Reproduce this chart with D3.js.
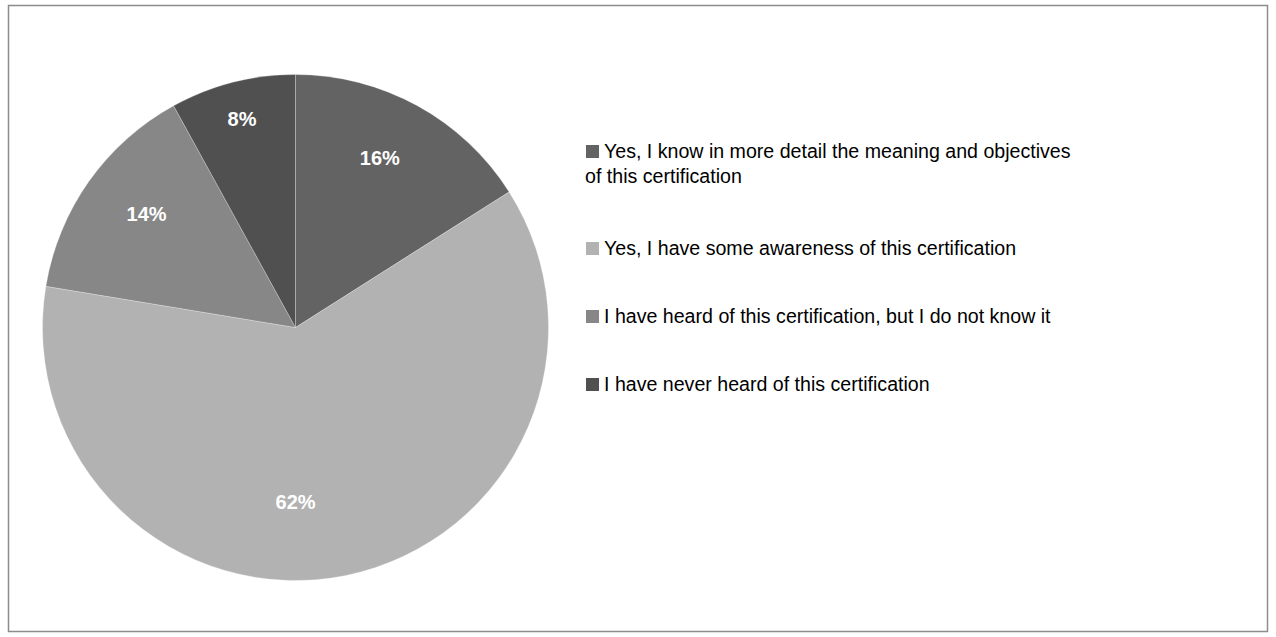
<!DOCTYPE html>
<html>
<head>
<meta charset="utf-8">
<script src="https://cdn.jsdelivr.net/npm/d3@7"></script>
<style>
  html, body { margin: 0; padding: 0; background: #fff; }
  svg { display: block; }
</style>
</head>
<body>
<script>
const categories = [
  ["Yes, I know in more detail the meaning and objectives", "of this certification"],
  ["Yes, I have some awareness of this certification"],
  ["I have heard of this certification, but I do not know it"],
  ["I have never heard of this certification"]
];
const values = [16, 61.6, 14.4, 8];
const colors = ["#636363", "#b2b2b2", "#878787", "#505050"];

// label placement (layout config): radius fraction and angle nudge (deg)
const labelRadiusFrac = [0.75, 0.69, 0.74, 0.85];
const labelAngleNudge = [-2.4, 11.5, 2, 0];

const W = 1276, H = 637;
const svg = d3.select("body").append("svg").attr("width", W).attr("height", H);

svg.append("rect")
  .attr("x", 8.5).attr("y", 5.5)
  .attr("width", 1259).attr("height", 626)
  .attr("fill", "#fff").attr("stroke", "#8c8c8c").attr("stroke-width", 1.5);

const cx = 295.5, cy = 327.5, r = 253;
const data = values.map((v, i) => ({ v, i }));
const pie = d3.pie().value(d => d.v).sort(null);
const arcs = pie(data);
const arc = d3.arc().innerRadius(0).outerRadius(r);

const g = svg.append("g").attr("transform", `translate(${cx},${cy})`);
g.selectAll("path").data(arcs).enter().append("path")
  .attr("d", arc)
  .attr("fill", d => colors[d.data.i])
  .attr("stroke", "#ffffff")
  .attr("stroke-opacity", 0.35)
  .attr("stroke-width", 0.75);

function labelPos(d) {
  const i = d.data.i;
  const a = (d.startAngle + d.endAngle) / 2 + labelAngleNudge[i] * Math.PI / 180;
  const rr = r * labelRadiusFrac[i];
  return [rr * Math.sin(a), -rr * Math.cos(a)];
}

g.selectAll("text.lbl").data(arcs).enter().append("text")
  .attr("class", "lbl")
  .attr("transform", d => `translate(${labelPos(d)})`)
  .attr("text-anchor", "middle")
  .attr("dy", "0.35em")
  .attr("font-family", "'Liberation Sans', Arial, sans-serif")
  .attr("font-weight", "bold")
  .attr("font-size", 20)
  .attr("fill", "#ffffff")
  .text(d => Math.round(d.data.v) + "%");

// Legend
const legendY = [151, 248, 316, 384];
const lg = svg.append("g");
categories.forEach((lines, i) => {
  lg.append("rect")
    .attr("x", 586).attr("y", legendY[i] - 6)
    .attr("width", 13).attr("height", 13)
    .attr("fill", colors[i]);
  const t = lg.append("text")
    .attr("x", 604).attr("y", legendY[i])
    .attr("font-family", "'Liberation Sans', Arial, sans-serif")
    .attr("font-size", 19.6)
    .attr("fill", "#000");
  lines.forEach((ln, j) => {
    t.append("tspan").attr("x", j === 0 ? 604 : 585)
      .attr("dy", j === 0 ? "0.35em" : 25.5).text(ln);
  });
});
</script>
</body>
</html>
